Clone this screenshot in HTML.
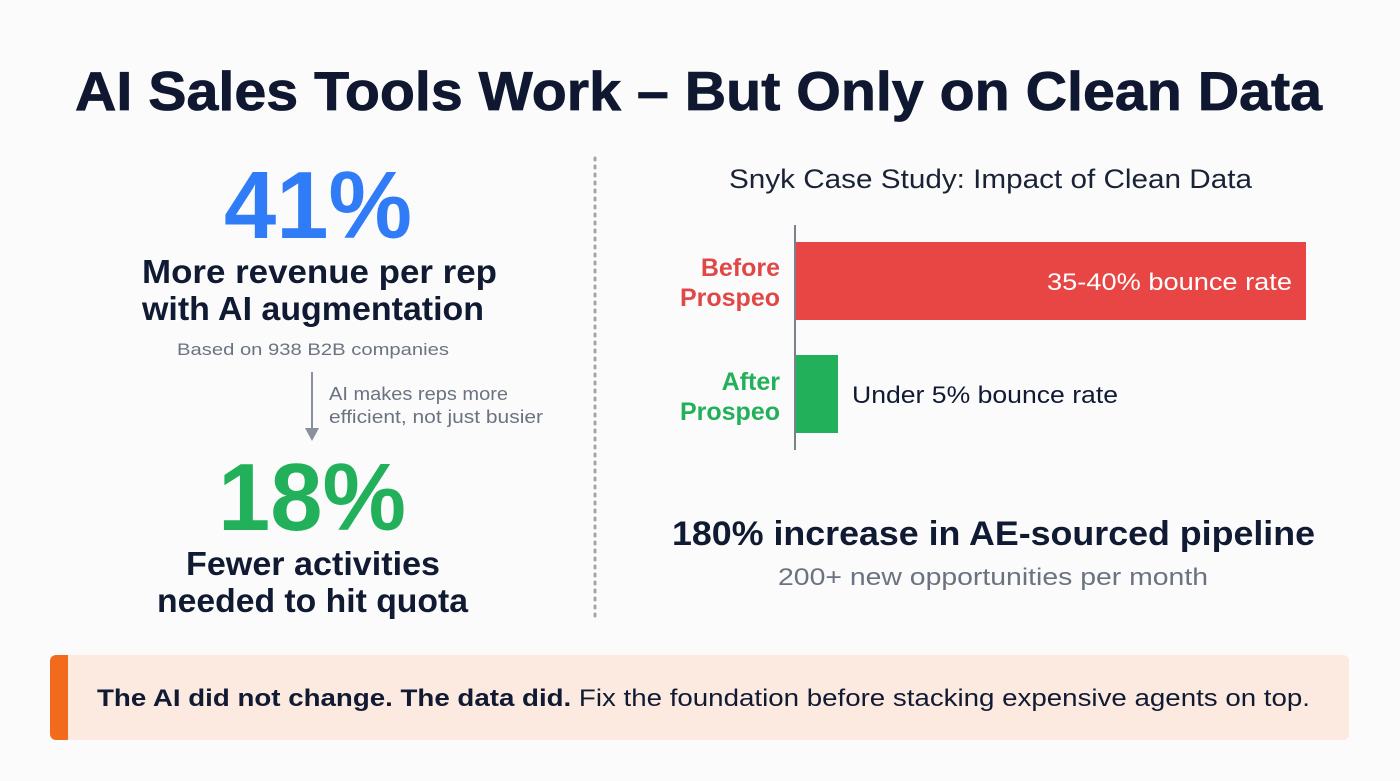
<!DOCTYPE html>
<html><head><style>
html,body{margin:0;padding:0;background:#fcfcfc;}
svg{display:block;font-family:"Liberation Sans",sans-serif;}
</style></head><body>
<svg width="1400" height="781" viewBox="0 0 1400 781" xmlns="http://www.w3.org/2000/svg">
<rect width="1400" height="781" fill="#fbfbfb"/>
<text x="75" y="110" font-size="55" font-weight="bold" fill="#0f1830" stroke="#0f1830" stroke-width="0.8" textLength="1247" lengthAdjust="spacingAndGlyphs">AI Sales Tools Work – But Only on Clean Data</text>

<text x="224" y="238" font-size="96" font-weight="bold" fill="#2f7cf6" textLength="188" lengthAdjust="spacingAndGlyphs">41%</text>
<text x="142" y="283" font-size="33" font-weight="bold" fill="#111a33" textLength="355" lengthAdjust="spacingAndGlyphs">More revenue per rep</text>
<text x="142" y="320" font-size="33" font-weight="bold" fill="#111a33" textLength="342" lengthAdjust="spacingAndGlyphs">with AI augmentation</text>
<text x="177" y="355" font-size="17" fill="#6b7280" textLength="272" lengthAdjust="spacingAndGlyphs">Based on 938 B2B companies</text>
<line x1="312" y1="372" x2="312" y2="432" stroke="#8a919c" stroke-width="2"/>
<path d="M305 428 L312 441 L319 428 Z" fill="#8a919c"/>
<text x="329" y="400" font-size="18" fill="#6b7280" textLength="179" lengthAdjust="spacingAndGlyphs">AI makes reps more</text>
<text x="329" y="423" font-size="18" fill="#6b7280" textLength="214" lengthAdjust="spacingAndGlyphs">efficient, not just busier</text>
<text x="218" y="530" font-size="96" font-weight="bold" fill="#22b05a" textLength="188" lengthAdjust="spacingAndGlyphs">18%</text>
<text x="186" y="575" font-size="33" font-weight="bold" fill="#111a33" textLength="254" lengthAdjust="spacingAndGlyphs">Fewer activities</text>
<text x="157" y="612" font-size="33" font-weight="bold" fill="#111a33" textLength="311" lengthAdjust="spacingAndGlyphs">needed to hit quota</text>

<line x1="595" y1="158" x2="595" y2="618" stroke="#a0a6ae" stroke-width="3" stroke-dasharray="2,6" stroke-linecap="round"/>

<text x="729" y="188" font-size="27" fill="#1a2236" textLength="523" lengthAdjust="spacingAndGlyphs">Snyk Case Study: Impact of Clean Data</text>
<line x1="795" y1="225" x2="795" y2="450" stroke="#7b818a" stroke-width="2"/>
<rect x="796" y="242" width="510" height="78" fill="#e84545"/>
<text x="1047" y="290" font-size="24" fill="#ffffff" textLength="245" lengthAdjust="spacingAndGlyphs">35-40% bounce rate</text>
<text x="780" y="276" font-size="25" font-weight="bold" fill="#e04848" text-anchor="end">Before</text>
<text x="780" y="306" font-size="25" font-weight="bold" fill="#e04848" text-anchor="end">Prospeo</text>
<rect x="796" y="355" width="42" height="78" fill="#22b05a"/>
<text x="780" y="390" font-size="25" font-weight="bold" fill="#22b05a" text-anchor="end">After</text>
<text x="780" y="420" font-size="25" font-weight="bold" fill="#22b05a" text-anchor="end">Prospeo</text>
<text x="852" y="403" font-size="24" fill="#111a33" textLength="266" lengthAdjust="spacingAndGlyphs">Under 5% bounce rate</text>

<text x="672" y="545" font-size="34" font-weight="bold" fill="#111a33" textLength="643" lengthAdjust="spacingAndGlyphs">180% increase in AE-sourced pipeline</text>
<text x="778" y="585" font-size="24" fill="#6b7280" textLength="430" lengthAdjust="spacingAndGlyphs">200+ new opportunities per month</text>

<rect x="50" y="655" width="1299" height="85" rx="6" fill="#fce9df"/>
<path d="M56 655 H68 V740 H56 A6 6 0 0 1 50 734 V661 A6 6 0 0 1 56 655 Z" fill="#f26b1d"/>
<text x="97" y="706" font-size="24" fill="#111a33" textLength="1213" lengthAdjust="spacingAndGlyphs"><tspan font-weight="bold">The AI did not change. The data did.</tspan> Fix the foundation before stacking expensive agents on top.</text>
</svg>
</body></html>
